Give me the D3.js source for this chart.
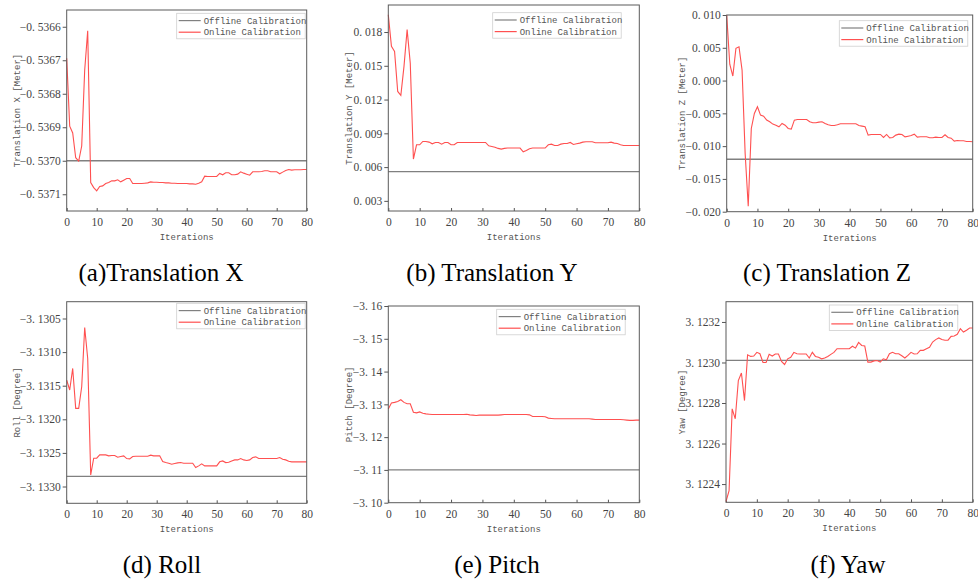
<!DOCTYPE html>
<html>
<head>
<meta charset="utf-8">
<script src="https://cdn.jsdelivr.net/npm/d3@7/dist/d3.min.js"></script>
<style>
  body { margin: 0; background: #fff; }
  .tick text { font-family: "Liberation Serif", serif; font-size: 11.5px; fill: #444; }
  .tick line { stroke: #555; }
  .ttl { font-family: "Liberation Mono", monospace; font-size: 9px; fill: #555; }
  .cap { font-family: "Liberation Serif", serif; font-size: 25px; fill: #000; }
</style>
</head>
<body>
<svg id="fig" width="978" height="579"></svg>
<script>
// iterations 0..80
const iterations = d3.range(0, 81);

const transX = [-0.536694, -0.536897, -0.536917, -0.536991, -0.537001, -0.536956, -0.536729, -0.536612, -0.537065, -0.537080,
  -0.537090, -0.537077, -0.537075, -0.537068, -0.537065, -0.537060, -0.537060, -0.537057, -0.537063, -0.537058,
  -0.537053, -0.537053, -0.537068, -0.537068, -0.537068, -0.537068, -0.537067, -0.537066, -0.537063, -0.537064,
  -0.537064, -0.537065, -0.537065, -0.537066, -0.537066, -0.537067, -0.537067, -0.537068, -0.537068, -0.537068,
  -0.537068, -0.537069, -0.537069, -0.537070, -0.537067, -0.537063, -0.537046, -0.537047, -0.537047, -0.537047,
  -0.537047, -0.537038, -0.537042, -0.537036, -0.537036, -0.537042, -0.537042, -0.537040, -0.537033, -0.537037,
  -0.537040, -0.537043, -0.537033, -0.537033, -0.537033, -0.537032, -0.537030, -0.537030, -0.537033, -0.537033,
  -0.537033, -0.537039, -0.537034, -0.537029, -0.537026, -0.537028, -0.537027, -0.537027, -0.537027, -0.537026,
  -0.537026];

const transY = [0.01954, 0.01673, 0.01628, 0.01272, 0.01237, 0.01495, 0.01821, 0.01524, 0.00671, 0.00798,
  0.00798, 0.00828, 0.00828, 0.00822, 0.00807, 0.00819, 0.00819, 0.00804, 0.00819, 0.00819,
  0.00798, 0.00798, 0.00819, 0.00819, 0.00819, 0.00819, 0.00819, 0.00819, 0.00819, 0.00819,
  0.00819, 0.00819, 0.00789, 0.00783, 0.00777, 0.00766, 0.00760, 0.00766, 0.00769, 0.00769,
  0.00769, 0.00769, 0.00769, 0.00736, 0.00748, 0.00763, 0.00769, 0.00769, 0.00769, 0.00769,
  0.00769, 0.00798, 0.00804, 0.00792, 0.00792, 0.00804, 0.00810, 0.00810, 0.00819, 0.00801,
  0.00807, 0.00813, 0.00822, 0.00825, 0.00825, 0.00825, 0.00816, 0.00816, 0.00816, 0.00816,
  0.00816, 0.00822, 0.00813, 0.00810, 0.00798, 0.00792, 0.00792, 0.00792, 0.00792, 0.00792,
  0.00792];

const transZ = [0.01000, 0.00250, 0.00069, 0.00491, 0.00516, 0.00160, -0.01112, -0.01917, -0.00731, -0.00502,
  -0.00400, -0.00527, -0.00542, -0.00603, -0.00629, -0.00664, -0.00680, -0.00705, -0.00654, -0.00680,
  -0.00731, -0.00741, -0.00603, -0.00593, -0.00593, -0.00593, -0.00593, -0.00629, -0.00644, -0.00644,
  -0.00634, -0.00629, -0.00654, -0.00675, -0.00685, -0.00685, -0.00675, -0.00659, -0.00659, -0.00659,
  -0.00659, -0.00659, -0.00659, -0.00685, -0.00695, -0.00705, -0.00832, -0.00822, -0.00822, -0.00822,
  -0.00822, -0.00868, -0.00822, -0.00873, -0.00868, -0.00832, -0.00817, -0.00822, -0.00858, -0.00848,
  -0.00837, -0.00817, -0.00863, -0.00858, -0.00858, -0.00858, -0.00873, -0.00873, -0.00863, -0.00868,
  -0.00868, -0.00827, -0.00868, -0.00878, -0.00924, -0.00914, -0.00919, -0.00919, -0.00929, -0.00929,
  -0.00934];

const roll = [-3.131416, -3.131564, -3.131243, -3.131837, -3.131837, -3.131515, -3.130634, -3.131094, -3.132827, -3.132579,
  -3.132579, -3.132530, -3.132530, -3.132530, -3.132544, -3.132539, -3.132539, -3.132564, -3.132554, -3.132544,
  -3.132584, -3.132589, -3.132554, -3.132549, -3.132549, -3.132549, -3.132549, -3.132549, -3.132534, -3.132544,
  -3.132544, -3.132544, -3.132629, -3.132644, -3.132653, -3.132668, -3.132658, -3.132648, -3.132644, -3.132653,
  -3.132653, -3.132653, -3.132653, -3.132718, -3.132693, -3.132663, -3.132693, -3.132693, -3.132693, -3.132693,
  -3.132693, -3.132633, -3.132619, -3.132644, -3.132639, -3.132619, -3.132604, -3.132604, -3.132584, -3.132604,
  -3.132614, -3.132604, -3.132569, -3.132559, -3.132584, -3.132584, -3.132584, -3.132584, -3.132584, -3.132584,
  -3.132584, -3.132569, -3.132594, -3.132604, -3.132624, -3.132633, -3.132633, -3.132633, -3.132633, -3.132633,
  -3.132633];

const pitch = [-3.1286, -3.1304, -3.1306, -3.1309, -3.1314, -3.1306, -3.1302, -3.1302, -3.1276, -3.1274,
  -3.1277, -3.1273, -3.1271, -3.1270, -3.1269, -3.1269, -3.1269, -3.1269, -3.1269, -3.1269,
  -3.1269, -3.1269, -3.1269, -3.1269, -3.1269, -3.1270, -3.1268, -3.1267, -3.1266, -3.1267,
  -3.1267, -3.1267, -3.1267, -3.1267, -3.1267, -3.1267, -3.1268, -3.1269, -3.1269, -3.1269,
  -3.1269, -3.1269, -3.1269, -3.1269, -3.1269, -3.1268, -3.1263, -3.1263, -3.1263, -3.1263,
  -3.1262, -3.1258, -3.1257, -3.1256, -3.1256, -3.1256, -3.1256, -3.1256, -3.1256, -3.1256,
  -3.1256, -3.1256, -3.1256, -3.1256, -3.1256, -3.1255, -3.1254, -3.1254, -3.1254, -3.1254,
  -3.1254, -3.1254, -3.1254, -3.1254, -3.1254, -3.1253, -3.1252, -3.1251, -3.1251, -3.1252,
  -3.1252];

const yaw = [3.122314, 3.122367, 3.122771, 3.122722, 3.122911, 3.122948, 3.122812, 3.123038, 3.123030, 3.123032,
  3.123050, 3.123043, 3.123000, 3.123000, 3.123040, 3.123032, 3.123042, 3.123042, 3.123005, 3.122990,
  3.123018, 3.123026, 3.123050, 3.123043, 3.123042, 3.123042, 3.123042, 3.123022, 3.123050, 3.123030,
  3.123026, 3.123018, 3.123022, 3.123030, 3.123040, 3.123050, 3.123068, 3.123068, 3.123068, 3.123068,
  3.123068, 3.123080, 3.123071, 3.123099, 3.123084, 3.123081, 3.123002, 3.123002, 3.123008, 3.123010,
  3.123002, 3.123018, 3.123013, 3.123043, 3.123050, 3.123043, 3.123043, 3.123033, 3.123022, 3.123035,
  3.123050, 3.123042, 3.123043, 3.123060, 3.123060, 3.123068, 3.123075, 3.123101, 3.123113, 3.123121,
  3.123113, 3.123110, 3.123110, 3.123129, 3.123131, 3.123139, 3.123167, 3.123150, 3.123159, 3.123170,
  3.123170];

// offline calibration (constant reference)
const offline = [-0.53700, 0.0056, -0.0120, -3.13285, -3.1100, 3.12301];

const captions = ["(a)Translation X", "(b) Translation Y", "(c) Translation Z", "(d) Roll", "(e) Pitch", "(f) Yaw"];
const yTitles = ["Translation X [Meter]", "Translation Y [Meter]", "Translation Z [Meter]", "Roll [Degree]", "Pitch [Degree]", "Yaw [Degree]"];
const xTicks = [0, 10, 20, 30, 40, 50, 60, 70, 80];
const yTicks = [
  [-0.5366, -0.5367, -0.5368, -0.5369, -0.5370, -0.5371],
  [0.003, 0.006, 0.009, 0.012, 0.015, 0.018],
  [-0.020, -0.015, -0.010, -0.005, 0.000, 0.005, 0.010],
  [-3.1305, -3.1310, -3.1315, -3.1320, -3.1325, -3.1330],
  [-3.16, -3.15, -3.14, -3.13, -3.12, -3.11, -3.10],
  [3.1224, 3.1226, 3.1228, 3.1230, 3.1232]
];
const yDecimals = [4, 3, 3, 4, 2, 4];
const legendNames = ["Offline Calibration", "Online Calibration"];
const series = [transX, transY, transZ, roll, pitch, yaw];

// layout: plot boxes and y domains (bottom value first)
const boxes = [
  { l: 66.7, r: 306.7, t: 10, b: 211, dom: [-0.53715, -0.53655], lx: 176.7, ly: 13.3, tx: 16.7, cx: 161, cy: 281 },
  { l: 388.3, r: 639.3, t: 5, b: 211, dom: [0.0021, 0.0204], lx: 492.7, ly: 12.7, tx: 349.3, cx: 492, cy: 281 },
  { l: 726.7, r: 972.7, t: 15, b: 211.7, dom: [-0.020, 0.010], lx: 839.3, ly: 20.7, tx: 681.7, cx: 827, cy: 281 },
  { l: 66.7, r: 306.7, t: 301.7, b: 503.3, dom: [-3.13325, -3.13025], lx: 176.7, ly: 303.3, tx: 16.7, cx: 162, cy: 573 },
  { l: 388.3, r: 639.3, t: 306, b: 502.7, dom: [-3.10, -3.16], lx: 496.7, ly: 309.3, tx: 349.3, cx: 497, cy: 573 },
  { l: 726, r: 972.7, t: 301.7, b: 502.3, dom: [3.12231, 3.1233], lx: 829.3, ly: 305, tx: 681.7, cx: 848, cy: 573 }
];

const svg = d3.select("#fig");
const RED = "#ff5050";
const GREY = "#808080";

boxes.forEach((bx, k) => {
  const g = svg.append("g");
  const x = d3.scaleLinear().domain([0, 80]).range([bx.l, bx.r]);
  const y = d3.scaleLinear().domain(bx.dom).range([bx.b, bx.t]);
  const fmt = d => d3.format("." + yDecimals[k] + "f")(d).replace("-", "\u2212").replace(".", ". ");

  // axes
  g.append("g")
    .attr("transform", `translate(0,${bx.b})`)
    .call(d3.axisBottom(x).tickValues(xTicks).tickSizeInner(-3).tickSizeOuter(0).tickPadding(7).tickFormat(d3.format("d")))
    .call(a => a.select(".domain").remove());
  g.append("g")
    .attr("transform", `translate(${bx.l},0)`)
    .call(d3.axisLeft(y).tickValues(yTicks[k]).tickSize(4).tickPadding(2).tickFormat(fmt))
    .call(a => a.select(".domain").remove());

  // offline line
  g.append("line")
    .attr("x1", bx.l).attr("x2", bx.r)
    .attr("y1", y(offline[k])).attr("y2", y(offline[k]))
    .attr("stroke", GREY).attr("stroke-width", 1.3);

  // online curve
  const line = d3.line().x((d, i) => x(iterations[i])).y(d => y(d));
  g.append("path")
    .datum(series[k])
    .attr("d", line)
    .attr("fill", "none")
    .attr("stroke", RED)
    .attr("stroke-width", 1.1);

  // frame
  g.append("rect")
    .attr("x", bx.l).attr("y", bx.t)
    .attr("width", bx.r - bx.l).attr("height", bx.b - bx.t)
    .attr("fill", "none").attr("stroke", "#5a5a5a").attr("stroke-width", 1);

  // titles
  g.append("text").attr("class", "ttl")
    .attr("x", (bx.l + bx.r) / 2).attr("y", bx.b + 29)
    .attr("text-anchor", "middle").text("Iterations");
  g.append("text").attr("class", "ttl")
    .attr("transform", `translate(${bx.tx},${(bx.t + bx.b) / 2}) rotate(-90)`)
    .attr("text-anchor", "middle").attr("dy", "0.35em").text(yTitles[k]);

  // legend
  const lg = g.append("g").attr("transform", `translate(${bx.lx},${bx.ly})`);
  lg.append("rect").attr("width", 128.5).attr("height", 25.5)
    .attr("fill", "#fff").attr("stroke", "#cfcfcf").attr("stroke-width", 0.8);
  [GREY, RED].forEach((c, j) => {
    lg.append("line").attr("x1", 2).attr("x2", 24)
      .attr("y1", 7.3 + j * 11.6).attr("y2", 7.3 + j * 11.6)
      .attr("stroke", c).attr("stroke-width", 1.2);
    lg.append("text").attr("class", "ttl")
      .attr("x", 27).attr("y", 7.3 + j * 11.6).attr("dy", "0.35em")
      .text(legendNames[j]);
  });

  // caption
  svg.append("text").attr("class", "cap")
    .attr("x", bx.cx).attr("y", bx.cy)
    .attr("text-anchor", "middle").text(captions[k]);
});
</script>
</body>
</html>
